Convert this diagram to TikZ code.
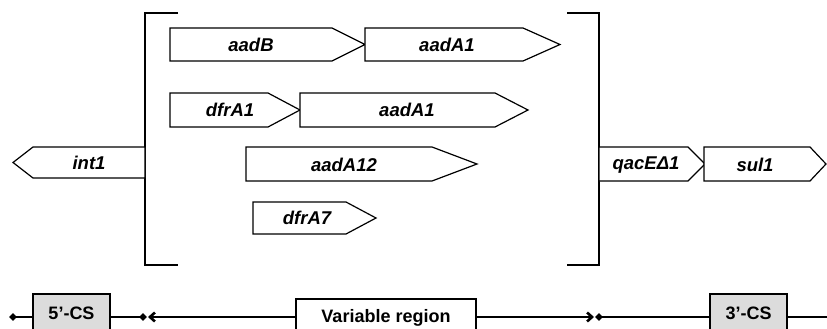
\documentclass[tikz,border=0pt]{standalone}
\usepackage{fontspec}
\setmainfont{Liberation Sans}
\usetikzlibrary{arrows.meta,shapes.geometric}
\definecolor{boxgray}{RGB}{220,220,220}
\newcommand{\sq}{\char"27\relax}
\tikzset{tipbarb/.tip={Straight Barb[length=5pt, width=9pt]}}
\begin{document}
\begin{tikzpicture}[x=1pt,y=-1pt,
  gene/.style={draw=black, line width=1.2pt, fill=white, line join=miter},
  glabel/.style={font=\fontsize{18.5}{21}\selectfont\bfseries\itshape, inner sep=0pt},
  blabel/.style={font=\fontsize{18}{21}\selectfont\bfseries},
  bracketline/.style={line width=1.8pt},
  mainline/.style={line width=2.6pt},
  csbox/.style={draw=black, line width=1.5pt, fill=boxgray, anchor=north, blabel},
  vrbox/.style={draw=black, line width=1.5pt, fill=white, anchor=north, blabel},
  dotmark/.style={diamond, fill=black, inner sep=0pt, minimum size=8pt}
]
\useasboundingbox (0,0) rectangle (827,329);
\clip (0,0) rectangle (827,329);

% brackets
\draw[bracketline] (178,13) -- (145,13) -- (145,265) -- (178,265);
\draw[bracketline] (567,13) -- (599,13) -- (599,265) -- (567,265);

% gene cassettes
\draw[gene] (170,28) -- (332,28) -- (365,44.5) -- (332,61) -- (170,61) -- cycle;
\node[glabel] (aadB) at (251,45) {aadB};
\draw[gene] (365,28) -- (523,28) -- (560,44.5) -- (523,61) -- (365,61) -- cycle;
\node[glabel] (aadA1a) at (447,45) {aadA1};

\draw[gene] (170,93) -- (268,93) -- (300,110) -- (268,127) -- (170,127) -- cycle;
\node[glabel] (dfrA1) at (230,110) {dfrA1};
\draw[gene] (300,93) -- (495,93) -- (528,110) -- (495,127) -- (300,127) -- cycle;
\node[glabel] (aadA1b) at (407,110) {aadA1};

\draw[gene] (246,147) -- (432,147) -- (477,164) -- (432,181) -- (246,181) -- cycle;
\node[glabel] (aadA12) at (344,165) {aadA12};

\draw[gene] (253,202) -- (346,202) -- (376,218) -- (346,234) -- (253,234) -- cycle;
\node[glabel] (dfrA7) at (307,218) {dfrA7};

% int1, qacE, sul1
\draw[gene] (145,147) -- (33,147) -- (13,162.5) -- (33,178) -- (145,178) -- cycle;
\node[glabel] (int1) at (89,163) {int1};

\draw[gene] (599,147) -- (688,147) -- (705,164) -- (688,181) -- (599,181) -- cycle;
\node[glabel] (qacE) at (646,165) {qacEΔ1};
\draw[gene] (704,147) -- (810,147) -- (826,164) -- (810,181) -- (704,181) -- cycle;
\node[glabel] (sul1) at (755,165) {sul1};

% bottom line
\coordinate (L0) at (13,317);
\coordinate (L1) at (143,317);
\coordinate (La) at (148,317);
\coordinate (Ra) at (594,317);
\coordinate (R1) at (599,317);
\coordinate (R0) at (830,317);
\draw[mainline] (L0) -- (L1);
\draw[mainline, tipbarb-tipbarb] (La) -- (Ra);
\draw[mainline] (R1) -- (R0);
\node[dotmark] (d0) at (L0) {};
\node[dotmark] (d1) at (L1) {};
\node[dotmark] (d2) at (R1) {};

\node[csbox, minimum width=77pt, minimum height=40pt] (cs5) at (71.5,293) {5\sq-CS};
\node[vrbox, minimum width=180pt, minimum height=38pt] (vr) at (386,298) {Variable region};
\node[csbox, minimum width=77pt, minimum height=40pt] (cs3) at (748.5,293) {3\sq-CS};
\end{tikzpicture}
\end{document}
